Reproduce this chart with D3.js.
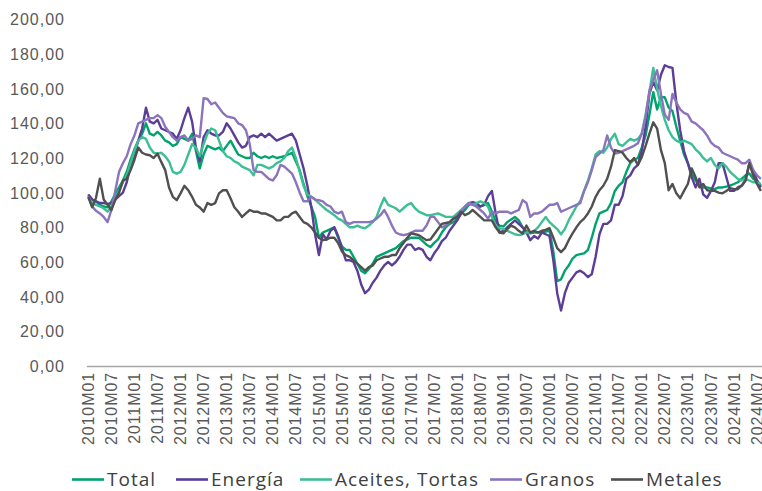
<!DOCTYPE html>
<html lang="es">
<head>
<meta charset="UTF-8">
<script src="https://cdn.jsdelivr.net/npm/d3@7"></script>
<style>
  body { margin: 0; background: #fff; }
  svg { display: block; font-family: "Open Sans", sans-serif; }
</style>
</head>
<body>
<div id="chart"></div>
<script>
// months 2010M01 .. 2024M08
const months = [];
for (let y = 2010; y <= 2024; y++) {
  for (let m = 1; m <= 12; m++) {
    if (y === 2024 && m > 8) break;
    months.push(y + "M" + String(m).padStart(2, "0"));
  }
}
const tickLabels = months.filter(d => d.endsWith("M01") || d.endsWith("M07"));
const yTicks = [0, 20, 40, 60, 80, 100, 120, 140, 160, 180, 200];

const seriesNames = ["Total", "Energía", "Aceites, Tortas", "Granos", "Metales"];
const seriesColors = ["#00a36c", "#5b3e96", "#3cbf94", "#8b74bd", "#505050"];

const total = [
  98.6, 96, 95, 93, 92, 91.5, 95, 99, 103, 107, 112, 119,
  125, 130, 134, 140, 134, 133, 135, 133, 130, 129, 127, 128,
  132, 131, 130, 134, 124, 114, 122, 127, 126, 125, 126, 124,
  127, 130, 126, 122, 121, 120, 120, 123, 121, 120, 121, 120,
  121, 120, 120.5, 121, 122, 123, 118, 113, 105, 98, 92, 86,
  74, 77, 78, 79, 80, 74, 69, 67, 67, 63, 59, 55,
  53.5, 56, 59, 63, 64, 65, 66, 67, 68, 70, 72, 73,
  74, 74, 74, 72, 70, 68.6, 71, 73, 77, 80, 82, 83,
  85, 88, 90, 93, 94, 92, 92, 93, 94, 89, 83, 81,
  80.5, 83, 84.5, 86, 84, 80, 78, 76.5, 77, 77, 77, 77.5,
  78, 66, 49, 50, 55, 58, 62, 64, 64.5, 65, 67, 74,
  82, 88, 89, 90, 94, 101, 104, 106, 112, 117, 119, 120,
  126, 133, 145, 158, 148, 155, 155, 149, 147, 138, 130, 122,
  117, 111, 107, 104, 103, 103, 102.5, 102, 103, 103, 103.5, 104,
  105, 106, 108, 110, 111, 108, 107, 104
];
const energia = [
  99, 96, 95, 94, 94, 93.5, 94, 96, 98, 100, 106, 116,
  122, 130, 137, 149, 141, 140, 142, 137, 136, 135, 134, 131,
  136, 143, 149, 141, 126, 118, 132, 136, 134, 133, 133, 135,
  140, 137, 133, 129, 126, 127, 132, 133, 132, 134, 132, 134,
  132, 130, 131, 132, 133, 134, 130, 122, 114, 104, 92, 76,
  64, 76, 73, 78, 80, 75, 68, 61, 61, 60, 55, 47,
  42, 44, 48, 51, 55, 58, 60, 58, 60, 63, 67, 70,
  70, 67, 68, 67, 63, 61, 65, 68, 72, 74, 78, 81,
  84, 88, 92, 94, 94.5, 94, 92, 93, 98, 101, 88, 77,
  78, 80, 82, 84, 82, 80, 77, 72.6, 75, 73.5, 77, 76,
  75, 61, 42, 32, 42, 48, 51, 54, 55, 53.5, 51.3, 53,
  63, 76, 82, 82, 84, 93, 93, 98, 108, 110, 114, 116,
  124, 138, 157, 164, 159, 168, 173.5, 172.5, 172, 152, 136, 124,
  117, 109, 103, 108, 99, 97, 101, 106, 117, 117, 109, 101,
  101, 103, 104, 107, 117, 113, 107, 103
];
const aceites = [
  97, 94, 93, 92, 91, 89, 92, 97, 101, 106, 110, 117,
  124, 130, 132, 131, 126, 123, 122.5, 123, 121, 118, 112, 111,
  112, 116, 122, 128, 126, 121, 128, 134, 137, 136, 130, 124,
  121, 120, 118, 117, 115, 114, 113, 110, 116, 116, 115, 114,
  115, 117, 118, 120, 124, 126, 120, 112, 104, 99, 97.6, 96,
  94, 92, 90, 88.5, 87, 85, 84, 82, 80, 80, 81, 80,
  79.5, 81, 83, 86, 92, 97, 93, 92, 91, 89, 91, 93,
  94, 91, 89, 88, 87, 87, 87.5, 88, 87, 86, 86, 86,
  88, 90, 92, 94, 93, 94, 95, 94, 92, 86, 81, 79.5,
  79, 78, 77, 76, 75.5, 76, 77, 77, 78, 80, 83, 86,
  83, 81, 79, 76, 79, 84, 88, 92, 95, 101, 107, 114,
  122, 124, 123, 126, 131, 134, 128, 127, 129, 131, 130, 131,
  134, 145, 158, 172, 160, 150, 142, 136, 132, 130, 129, 130,
  129, 128, 125, 123, 120, 118, 120, 116, 114, 117, 115, 112,
  110, 108, 107, 108, 107, 106, 106, 105
];
const granos = [
  98, 92, 89.5, 88, 86, 83, 90, 101, 112, 117, 121, 128,
  133, 140, 141, 142, 143, 143, 144.7, 143, 138, 135, 132, 130,
  132, 133, 130, 131, 133, 132, 154.5, 154, 151, 152, 149, 146,
  144, 143.5, 143, 140, 139, 136, 128, 113, 112, 112, 110, 108,
  107, 110, 116, 115, 113, 111, 106, 100, 95, 95, 97.6, 96,
  95.7, 95, 93, 92, 89, 88, 89, 83, 82, 83, 83, 83,
  83, 83, 83.5, 85, 87, 90, 86, 81, 77, 76, 75.5, 76,
  77, 78, 78, 78, 81, 86, 86, 83, 80, 81, 83, 85,
  87, 89, 92, 94, 93, 92, 90, 88, 85, 89, 88, 89,
  89, 89, 88, 89, 90, 95.7, 94, 86, 88, 88, 89, 91,
  93, 93, 94, 89, 90, 91, 92, 93, 94, 101, 106, 113,
  120.5, 122.5, 124.5, 133, 126, 122.5, 123, 124, 125, 126, 127, 128.5,
  134, 143.5, 159, 165, 170.6, 157, 145, 142, 157, 152, 148, 146,
  145, 141, 140, 138, 136, 133, 129, 127, 126, 123, 122, 121,
  120, 119, 117, 117, 119, 113, 110, 108
];
const metales = [
  97.5, 91.6, 97, 108, 96, 93, 90, 95.7, 100, 107, 108, 113,
  119, 126, 123, 122, 121.6, 120, 122.5, 117.6, 113, 103, 97.6, 95.7,
  99.6, 104, 101.4, 97.6, 93, 91.5, 89, 94, 93, 94, 99.6, 101.4,
  101.4, 96.8, 91.6, 89, 86, 88, 90, 89, 89, 88, 88, 87,
  86, 84, 84, 86, 86, 88, 89, 86, 83, 82, 80, 77,
  74, 72.6, 73, 74, 74, 71, 66, 64, 63, 61, 59, 57,
  55, 57, 58, 61, 62, 63, 63, 64, 64, 68, 71, 74,
  76.5, 76, 75.5, 74, 72.6, 73, 76, 79, 82, 82.5, 83, 85,
  86, 89, 87, 88, 90, 88, 86, 84, 84, 84, 80, 77,
  76.5, 79, 81, 80, 78, 76.5, 81, 77, 78, 77, 78, 78.5,
  79.5, 74, 68, 65.7, 68, 72.6, 76.5, 80, 83, 85, 88, 92,
  97.6, 101.4, 104, 108, 115, 124.5, 124, 123, 120, 117.6, 120, 116,
  120.5, 127, 134, 140.6, 137, 124.5, 117, 101.4, 105, 99.6, 96.8, 101,
  105, 114, 109, 103, 105, 101.4, 101, 101, 100, 99.6, 101, 102.6,
  102, 102, 104, 107, 117, 110, 105, 101
];
const seriesValues = [total, energia, aceites, granos, metales];

const width = 762, height = 491;
const svg = d3.select("#chart").append("svg")
  .attr("width", width)
  .attr("height", height);

const x = d3.scaleBand()
  .domain(months)
  .range([86.4, 762.8]);
const xc = d => x(d) + x.bandwidth() / 2;

const y = d3.scaleLinear()
  .domain([0, 200])
  .range([366, 19.3]);

const fmt = v => d3.format(".2f")(v).replace(".", ",");

// y axis (labels only)
const yAxis = d3.axisLeft(y)
  .tickValues(yTicks)
  .tickFormat(fmt)
  .tickSize(0)
  .tickPadding(0);
const gy = svg.append("g")
  .attr("transform", "translate(65,0)")
  .call(yAxis);
gy.select(".domain").remove();
gy.selectAll("text")
  .attr("fill", "#595959")
  .style("font-size", "16px")
  .style("letter-spacing", "1px")
  .attr("dy", "0.35em");

// x axis
const xAxis = d3.axisBottom(x)
  .tickValues(tickLabels)
  .tickSize(0)
  .tickSizeOuter(0);
const gx = svg.append("g")
  .attr("transform", "translate(0,366)")
  .call(xAxis);
gx.select(".domain")
  .attr("stroke", "#a6a6a6")
  .attr("stroke-width", 1.3);
gx.selectAll("text")
  .attr("fill", "#595959")
  .style("font-size", "16px")
  .style("letter-spacing", "0.9px")
  .attr("text-anchor", "end")
  .attr("transform", "rotate(-90)")
  .attr("x", -6)
  .attr("y", 0)
  .attr("dy", "0.35em");

// lines
const line = d3.line()
  .x((d, i) => xc(months[i]))
  .y(d => y(d));

seriesValues.forEach((vals, k) => {
  svg.append("path")
    .datum(vals)
    .attr("fill", "none")
    .attr("stroke", seriesColors[k])
    .attr("stroke-width", 2.4)
    .attr("stroke-linejoin", "round")
    .attr("d", line);
});

// legend
const legendX = [72, 176, 300, 490, 611];
const legend = svg.append("g").attr("transform", "translate(0,479.5)");
seriesNames.forEach((name, k) => {
  legend.append("line")
    .attr("x1", legendX[k]).attr("x2", legendX[k] + 32)
    .attr("y1", 0).attr("y2", 0)
    .attr("stroke", seriesColors[k])
    .attr("stroke-width", 2.6);
  legend.append("text")
    .attr("x", legendX[k] + 35)
    .attr("y", 0)
    .attr("dy", "0.35em")
    .attr("fill", "#404040")
    .style("font-size", "19px")
    .style("letter-spacing", "1px")
    .text(name);
});
</script>
</body>
</html>
